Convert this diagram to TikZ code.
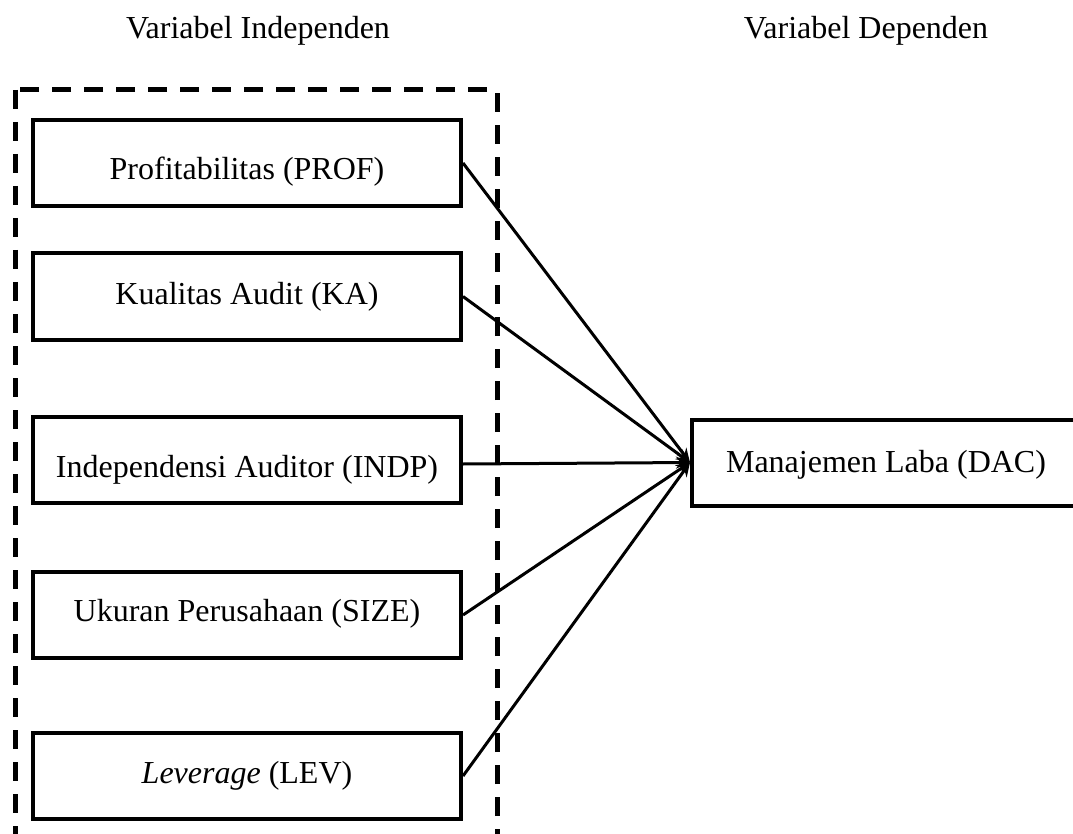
\documentclass[tikz,border=0pt]{standalone}
\usepackage{fontspec}
\setmainfont{Liberation Serif}
\usetikzlibrary{arrows.meta}
\begin{document}
\begin{tikzpicture}[x=1pt,y=-1pt,
  varbox/.style={draw,line width=4pt,minimum width=428pt,minimum height=86pt,inner sep=0pt,
     text height=22pt,text depth=6pt,font=\fontsize{32}{38}\selectfont},
  title/.style={font=\fontsize{32}{38}\selectfont,inner sep=0pt},
  link/.style={line width=3pt,-{Stealth[length=14pt,width=12pt]}},
  group/.style={line width=5pt,dash pattern=on 19pt off 13pt}]
\useasboundingbox (0,0) rectangle (1073,834);
\clip (0,0) rectangle (1073,834);
\node[title] (tind) at (258,31) {Variabel Independen};
\node[title] (tdep) at (866,31) {Variabel Dependen};
\draw[group] (15,90) rectangle (497,900);
\node[varbox] (prof) at (247,163) {\raisebox{-9pt}{Profitabilitas (PROF)}};
\node[varbox] (ka) at (247,296.5) {Kualitas Audit (KA)};
\node[varbox] (indp) at (247,460) {\raisebox{-9pt}{Independensi Auditor (INDP)}};
\node[varbox] (size) at (247,615) {\raisebox{2pt}{Ukuran Perusahaan (SIZE)}};
\node[varbox] (lev) at (247,776) {\raisebox{1pt}{\textit{Leverage} (LEV)}};
\node[varbox,anchor=west] (dac) at (690,462.5) {\hspace*{-40pt}\raisebox{-2pt}{Manajemen Laba (DAC)}};
\foreach \n in {prof,ka,size,lev}
  \draw[link] (\n.east) -- (dac.west);
\draw[link] ([yshift=-4pt]indp.east) -- (dac.west);
\end{tikzpicture}
\end{document}
